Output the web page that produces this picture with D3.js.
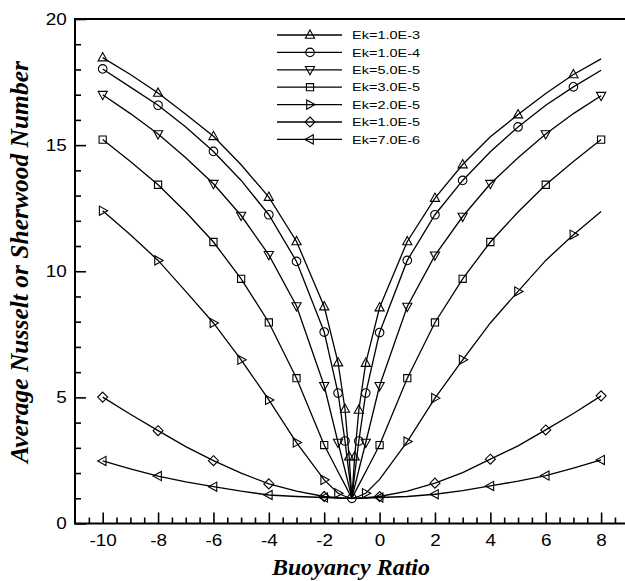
<!DOCTYPE html>
<html><head><meta charset="utf-8">
<script src="https://cdn.jsdelivr.net/npm/d3@7"></script>
<style>body{margin:0;background:#fff}svg{display:block}</style>
</head><body>
<svg id="chart" width="625" height="581"></svg>
<script>
// ---- data ----
const xs = [-10,-9,-8,-7,-6,-5,-4,-3,-2,-1.5,-1.25,-1.1,-1,-0.9,-0.75,-0.5,0,1,2,3,4,5,6,7,8];
const ekLabels = ["Ek=1.0E-3","Ek=1.0E-4","Ek=5.0E-5","Ek=3.0E-5","Ek=2.0E-5","Ek=1.0E-5","Ek=7.0E-6"];
const ek1e3 = [18.47,17.8,17.07,16.22,15.35,14.22,12.94,11.18,8.6,6.38,4.54,2.65,1.0,2.65,4.5,6.36,8.56,11.18,12.9,14.23,15.33,16.21,17.05,17.8,18.42];
const ek1e4 = [18.02,17.3,16.58,15.72,14.75,13.6,12.24,10.39,7.59,5.17,3.27,1.95,1.0,1.95,3.27,5.17,7.57,10.43,12.24,13.6,14.74,15.72,16.58,17.31,17.97];
const ek5e5 = [17.0,16.25,15.44,14.5,13.47,12.21,10.65,8.62,5.46,3.21,2.12,1.45,1.0,1.45,2.12,3.21,5.46,8.6,10.63,12.17,13.47,14.5,15.44,16.25,16.96];
const ek3e5 = [15.22,14.35,13.43,12.35,11.16,9.7,7.97,5.76,3.11,2.05,1.53,1.21,1.0,1.21,1.53,2.05,3.11,5.76,7.97,9.7,11.16,12.35,13.43,14.35,15.22];
const ek2e5 = [12.4,11.45,10.43,9.2,7.95,6.49,4.9,3.21,1.73,1.2,1.08,1.03,1.0,1.03,1.08,1.2,1.75,3.25,4.97,6.49,7.95,9.2,10.43,11.45,12.37];
const ek1e5 = [5.01,4.33,3.68,3.05,2.49,2.0,1.57,1.28,1.07,1.02,1.01,1.0,1.0,1.0,1.01,1.02,1.07,1.28,1.6,2.02,2.55,3.08,3.71,4.36,5.06];
const ek7e6 = [2.48,2.17,1.88,1.65,1.46,1.28,1.13,1.07,1.03,1.01,1.0,1.0,1.0,1.0,1.0,1.01,1.03,1.07,1.16,1.3,1.49,1.68,1.9,2.2,2.52];
// x positions that carry a symbol, per series
const mk1e3 = [-10,-8,-6,-4,-3,-2,-1.5,-1.25,-1.1,-0.9,-0.75,-0.5,0,1,2,3,5,7];
const mk1e4 = [-10,-8,-6,-4,-3,-2,-1.5,-1.25,-1,-0.75,-0.5,0,1,2,3,5,7];
const mk5e5 = [-10,-8,-6,-5,-4,-3,-2,-1.5,-0.5,0,1,2,3,4,6,8];
const mk3e5 = [-10,-8,-6,-5,-4,-3,-2,0,1,2,3,4,6,8];
const mk2e5 = [-10,-8,-6,-5,-4,-3,-2,-1.5,-0.5,1,2,3,5,7];
const mk1e5 = [-10,-8,-6,-4,-2,0,2,4,6,8];
const mk7e6 = [-10,-8,-6,-4,-2,0,2,4,6,8];
const xMajorTicks = [-10,-8,-6,-4,-2,0,2,4,6,8];
const yMajorTicks = [0,5,10,15,20];
const xTitle = "Buoyancy Ratio";
const yTitle = "Average Nusselt or Sherwood Number";

const seriesVals = [ek1e3,ek1e4,ek5e5,ek3e5,ek2e5,ek1e5,ek7e6];
const seriesMarks = [mk1e3,mk1e4,mk5e5,mk3e5,mk2e5,mk1e5,mk7e6];
const shapes = ["triUp","circle","triDown","square","triRight","diamond","triLeft"];

// ---- layout ----
const L = 75, R = 628.8, T = 19, B = 523.5;
const svg = d3.select("#chart");
const x = d3.scaleLinear().domain([-11, 9]).range([L, R]);
const y = d3.scaleLinear().domain([0, 20]).range([B, T]);

function shapePath(s){
  switch(s){
    case "triUp": return "M0,-5L4.6,3.3L-4.6,3.3Z";
    case "triDown": return "M0,5L4.6,-3.3L-4.6,-3.3Z";
    case "triRight": return "M5,0L-3.3,4.6L-3.3,-4.6Z";
    case "triLeft": return "M-5,0L3.3,4.6L3.3,-4.6Z";
    case "square": return "M-3.6,-3.6H3.6V3.6H-3.6Z";
    case "diamond": return "M0,-5L5,0L0,5L-5,0Z";
    case "circle": return "M4.3,0A4.3,4.3 0 1,1 -4.3,0A4.3,4.3 0 1,1 4.3,0Z";
  }
}

// axes (ticks inward)
const axFont = "'Liberation Sans', Arial, sans-serif";
const fmt = d => String(d);
const gx = svg.append("g").attr("transform",`translate(0,${B})`)
  .call(d3.axisBottom(x).tickValues(xMajorTicks).tickSize(-11).tickPadding(11).tickFormat(fmt));
const gxm = svg.append("g").attr("transform",`translate(0,${B})`)
  .call(d3.axisBottom(x).tickValues(d3.range(-10.5, 9.01, 0.5).filter(v=>!xMajorTicks.includes(v))).tickSize(-6).tickFormat(""));
const gy = svg.append("g").attr("transform",`translate(${L},0)`)
  .call(d3.axisLeft(y).tickValues(yMajorTicks).tickSize(-11).tickPadding(7).tickFormat(fmt));
const gym = svg.append("g").attr("transform",`translate(${L},0)`)
  .call(d3.axisLeft(y).tickValues(d3.range(1, 20, 1).filter(v=>v%5!==0)).tickSize(-6).tickFormat(""));
[gx,gxm,gy,gym].forEach(g=>{
  g.select(".domain").remove();
  g.selectAll("line").attr("stroke","#000").attr("stroke-width",1.6);
  g.selectAll("text").attr("fill","#000").style("font-family",axFont).style("font-size","16px")
    .attr("transform","scale(1.18,1)");
});

// frame
svg.append("rect").attr("x",L).attr("y",T).attr("width",R-L).attr("height",B-T)
  .attr("fill","none").attr("stroke","#000").attr("stroke-width",2);

// lines and symbols
const line = d3.line().x((d,i)=>x(xs[i])).y(d=>y(d));
seriesVals.forEach((vals,k)=>{
  svg.append("path").attr("d",line(vals)).attr("fill","none").attr("stroke","#000").attr("stroke-width",1.3);
  const pts = seriesMarks[k].map(mx=>[mx, vals[xs.indexOf(mx)]]);
  svg.append("g").selectAll("path").data(pts).join("path")
    .attr("transform",d=>`translate(${x(d[0])},${y(d[1])})`)
    .attr("d",shapePath(shapes[k])).attr("fill","none").attr("stroke","#000").attr("stroke-width",1.1);
});

// legend
const lg = svg.append("g");
ekLabels.forEach((lab,i)=>{
  const yy = 35 + i*17.4;
  lg.append("line").attr("x1",277).attr("x2",342).attr("y1",yy).attr("y2",yy).attr("stroke","#000").attr("stroke-width",1.3);
  lg.append("path").attr("transform",`translate(310,${yy})`).attr("d",shapePath(shapes[i]))
    .attr("fill","none").attr("stroke","#000").attr("stroke-width",1.1);
  lg.append("text").attr("transform",`translate(352,${yy+4.2}) scale(1.25,1)`).text(lab)
    .style("font-family",axFont).style("font-size","11.6px").attr("fill","#000");
});

// titles
const tFont = "'Liberation Serif','Times New Roman',serif";
svg.append("text").attr("x",351).attr("y",575).attr("text-anchor","middle")
  .style("font-family",tFont).style("font-weight","bold").style("font-style","italic").style("font-size","24px")
  .text(xTitle);
svg.append("text").attr("transform","translate(28,262) rotate(-90)").attr("text-anchor","middle")
  .style("font-family",tFont).style("font-weight","bold").style("font-style","italic").style("font-size","25.5px")
  .text(yTitle);
</script>
</body></html>
